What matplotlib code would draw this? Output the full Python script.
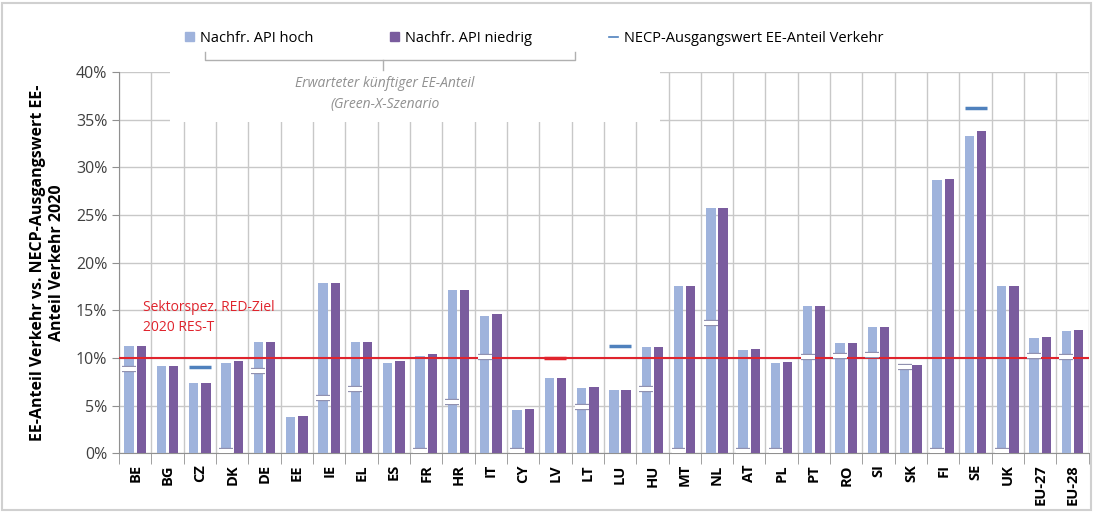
import matplotlib
matplotlib.use("Agg")
import matplotlib.pyplot as plt
import numpy as np
from matplotlib.lines import Line2D
from matplotlib.patches import Rectangle
import matplotlib.patheffects as pe

plt.rcParams['font.family'] = ['Open Sans', 'DejaVu Sans']

countries = ["BE", "BG", "CZ", "DK", "DE", "EE", "IE", "EL", "ES", "FR", "HR", "IT", "CY", "LV",
             "LT", "LU", "HU", "MT", "NL", "AT", "PL", "PT", "RO", "SI", "SK", "FI", "SE", "UK",
             "EU-27", "EU-28"]
hoch = [11.2, 9.2, 7.4, 9.5, 11.7, 3.8, 17.9, 11.7, 9.5, 10.2, 17.1, 14.4, 4.5, 7.9,
        6.8, 6.6, 11.1, 17.5, 25.7, 10.8, 9.5, 15.4, 11.6, 13.2, 9.0, 28.7, 33.3, 17.6,
        12.1, 12.8]
niedrig = [11.2, 9.2, 7.4, 9.7, 11.7, 3.9, 17.9, 11.7, 9.7, 10.4, 17.1, 14.6, 4.6, 7.9,
           6.9, 6.6, 11.1, 17.5, 25.7, 10.9, 9.6, 15.4, 11.6, 13.2, 9.3, 28.8, 33.8, 17.6,
           12.2, 12.9]
necp = [8.8, None, 9.0, 0.2, 8.6, None, 5.8, 6.7, None, 0.2, 5.4, 10.1, 0.2, 10.0,
        4.8, 11.2, 6.7, 0.2, 13.7, 0.2, 0.2, 10.1, 10.2, 10.3, 9.0, 0.2, 36.2, 0.2,
        10.2, 10.1]
target = 10.0
yticks = [0, 5, 10, 15, 20, 25, 30, 35, 40]

c_hoch = "#9fb3dc"
c_nied = "#7a5c9e"
c_necp = "#4f81bd"
c_red = "#e0242d"
c_grid = "#c8c8c8"

fig = plt.figure(figsize=(10.93, 5.12), dpi=100)
ax = fig.add_axes([0.109, 0.115, 0.887, 0.744])

x = np.arange(len(countries))
w = 0.29
ax.bar(x - 0.19, hoch, width=w, color=c_hoch, zorder=3)
ax.bar(x + 0.19, niedrig, width=w, color=c_nied, zorder=3)

ax.axhline(target, color=c_red, lw=1.5, zorder=4)

for i, v in enumerate(necp):
    if v is None:
        continue
    inside = v <= max(hoch[i], niedrig[i])
    if inside:
        ax.plot([i - 0.19], [v], marker='_', ms=10, mew=3, color='white', zorder=5,
                path_effects=[pe.withStroke(linewidth=4.5, foreground='#8888a8')])
    else:
        col = c_red if abs(v - target) < 0.15 else c_necp
        ax.plot([i], [v], marker='_', ms=16, mew=2.5, color=col, zorder=5)

ax.set_xlim(-0.5, len(countries) - 0.5)
ax.set_ylim(0, 40)
ax.set_yticks(yticks)
ax.set_yticklabels([f"{t}%" for t in yticks], color="#404040", fontsize=11.5)
ax.set_xticks(x)
ax.set_xticklabels(countries, rotation=90, fontsize=10.5, fontweight='bold', color='black')
ax.tick_params(axis='x', length=0, pad=8)
ax.tick_params(axis='y', length=5, color='#909090')
ax.set_xticks(np.arange(-0.5, len(countries), 1), minor=True)
ax.tick_params(axis='x', which='minor', length=8, color='#909090')
ax.grid(axis='y', color=c_grid, lw=1, zorder=0)
ax.grid(axis='x', which='minor', color=c_grid, lw=1, zorder=0)
for s in ['top', 'right']:
    ax.spines[s].set_visible(False)
ax.spines['left'].set_color('#909090')
ax.spines['bottom'].set_color('#909090')

ax.set_ylabel("EE-Anteil Verkehr vs. NECP-Ausgangswert EE-\nAnteil Verkehr 2020",
              fontsize=11.5, fontweight='bold')
ax.yaxis.set_label_coords(-0.056, 0.5)

ax.text(0.25, 14.2, "Sektorspez. RED-Ziel\n2020 RES-T", color=c_red, fontsize=10,
        va='center', ha='left', linespacing=1.45, zorder=6)

# white box behind annotation
fig.patches.append(Rectangle((170 / 1093, 1 - 122 / 512), 490 / 1093, 64 / 512,
                             transform=fig.transFigure, facecolor='white', edgecolor='none', zorder=5))
fig.text(385 / 1093, 1 - 94 / 512, "Erwarteter künftiger EE-Anteil\n(Green-X-Szenario",
         ha='center', va='center', style='italic', color='#909090', fontsize=10, linespacing=1.5,
         zorder=6)

# bracket
def fl(xs, ys):
    fig.add_artist(Line2D([xx / 1093 for xx in xs], [1 - yy / 512 for yy in ys],
                          color='#b0b0b0', lw=1, transform=fig.transFigure, zorder=6))
fl([205, 205, 575, 575], [52, 60, 60, 52])
fl([383, 383], [60, 70])

handles = [Rectangle((0, 0), 1, 1, color=c_hoch),
           Rectangle((0, 0), 1, 1, color=c_nied),
           Line2D([0], [0], color=c_necp, lw=1.2)]
fig.legend(handles, ["Nachfr. API hoch", "Nachfr. API niedrig", "NECP-Ausgangswert EE-Anteil Verkehr"],
           loc='center left', bbox_to_anchor=(172 / 1093, 1 - 38 / 512), ncol=3, frameon=False,
           fontsize=10.5, handlelength=0.6, handleheight=0.6, handletextpad=0.4, columnspacing=5.3)

fig.patches.append(Rectangle((0.002, 0.004), 0.996, 0.99, transform=fig.transFigure,
                             facecolor='none', edgecolor='#d0d0d0', lw=1.5, zorder=0))

fig.savefig("out.png", dpi=100)
